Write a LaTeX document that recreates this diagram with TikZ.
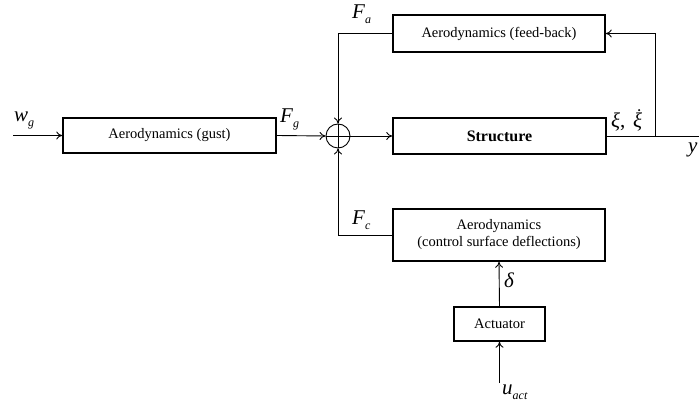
\documentclass[tikz,border=0pt]{standalone}
\usepackage{fontspec}
\setmainfont{Liberation Serif}
\usetikzlibrary{arrows.meta}
\newcommand{\lbsub}[2]{\textit{#1}\raisebox{-5pt}{\fontsize{12}{12}\selectfont\textit{#2}}}
\begin{document}
\begin{tikzpicture}[x=1pt,y=-1pt,
  blk/.style={draw,line width=1.6pt,inner sep=0pt,align=center,font=\fontsize{14.5}{17}\selectfont},
  arr/.style={line width=0.9pt,-{To[length=6pt,width=8pt]}},
  ln/.style={line width=0.9pt},
  lab/.style={inner sep=0pt,anchor=base west,font=\fontsize{21}{23}\selectfont}]
\useasboundingbox (0,0) rectangle (699,403);
\node[blk,minimum width=213pt,minimum height=35pt] (gust) at (169.5,135.5) {Aerodynamics (gust)};
\node[draw,circle,line width=0.9pt,minimum size=24pt,inner sep=0pt] (sum) at (338,136) {};
\draw[ln] (sum.north) -- (sum.south) (sum.west) -- (sum.east);
\node[blk,minimum width=213pt,minimum height=36pt,font=\fontsize{16}{18}\selectfont\bfseries] (struct) at (499.5,136) {Structure};
\node[blk,minimum width=212pt,minimum height=37pt] (fb) at (499,33.5) {Aerodynamics (feed-back)};
\node[blk,minimum width=212pt,minimum height=52pt] (ctrl) at (499,235) {Aerodynamics\\(control surface deflections)};
\node[blk,minimum width=91pt,minimum height=34pt] (act) at (499.5,324) {Actuator};
\coordinate (win) at (13,135.5);
\coordinate (yout) at (699,136);
\coordinate (br) at (655,136);
\coordinate (uin) at (499.5,383);
\draw[arr] (win) -- (gust.west);
\draw[arr] (gust.east) -- (sum.west);
\draw[arr] (sum.east) -- (struct.west);
\draw[ln] (struct.east) -- (yout);
\draw[arr] (br) |- (fb.east);
\draw[arr] (fb.west) -| (sum.north);
\draw[arr] (ctrl.west) -| (sum.south);
\draw[arr] (act.north) -- (ctrl.south);
\draw[arr] (uin) -- (act.south);
\node[lab] (lwg) at (14,122) {\lbsub{w}{g}};
\node[lab] (lfg) at (280,123) {\lbsub{F}{g}};
\node[lab] (lfa) at (352,19) {\lbsub{F}{a}};
\node[lab] (lfc) at (352,225) {\lbsub{F}{c}};
\node[lab] (lxi) at (611,128) {\textit{ξ},};
\node[lab] (lxd) at (633,128) {\textit{ξ}};
\fill ([xshift=1.5pt,yshift=3pt]lxd.north) circle (1.1pt);
\node[lab] (ly) at (688,153) {\textit{y}};
\node[lab] (ld) at (504,288) {\textit{δ}};
\node[lab] (lu) at (502,395) {\lbsub{u}{act}};
\end{tikzpicture}
\end{document}
